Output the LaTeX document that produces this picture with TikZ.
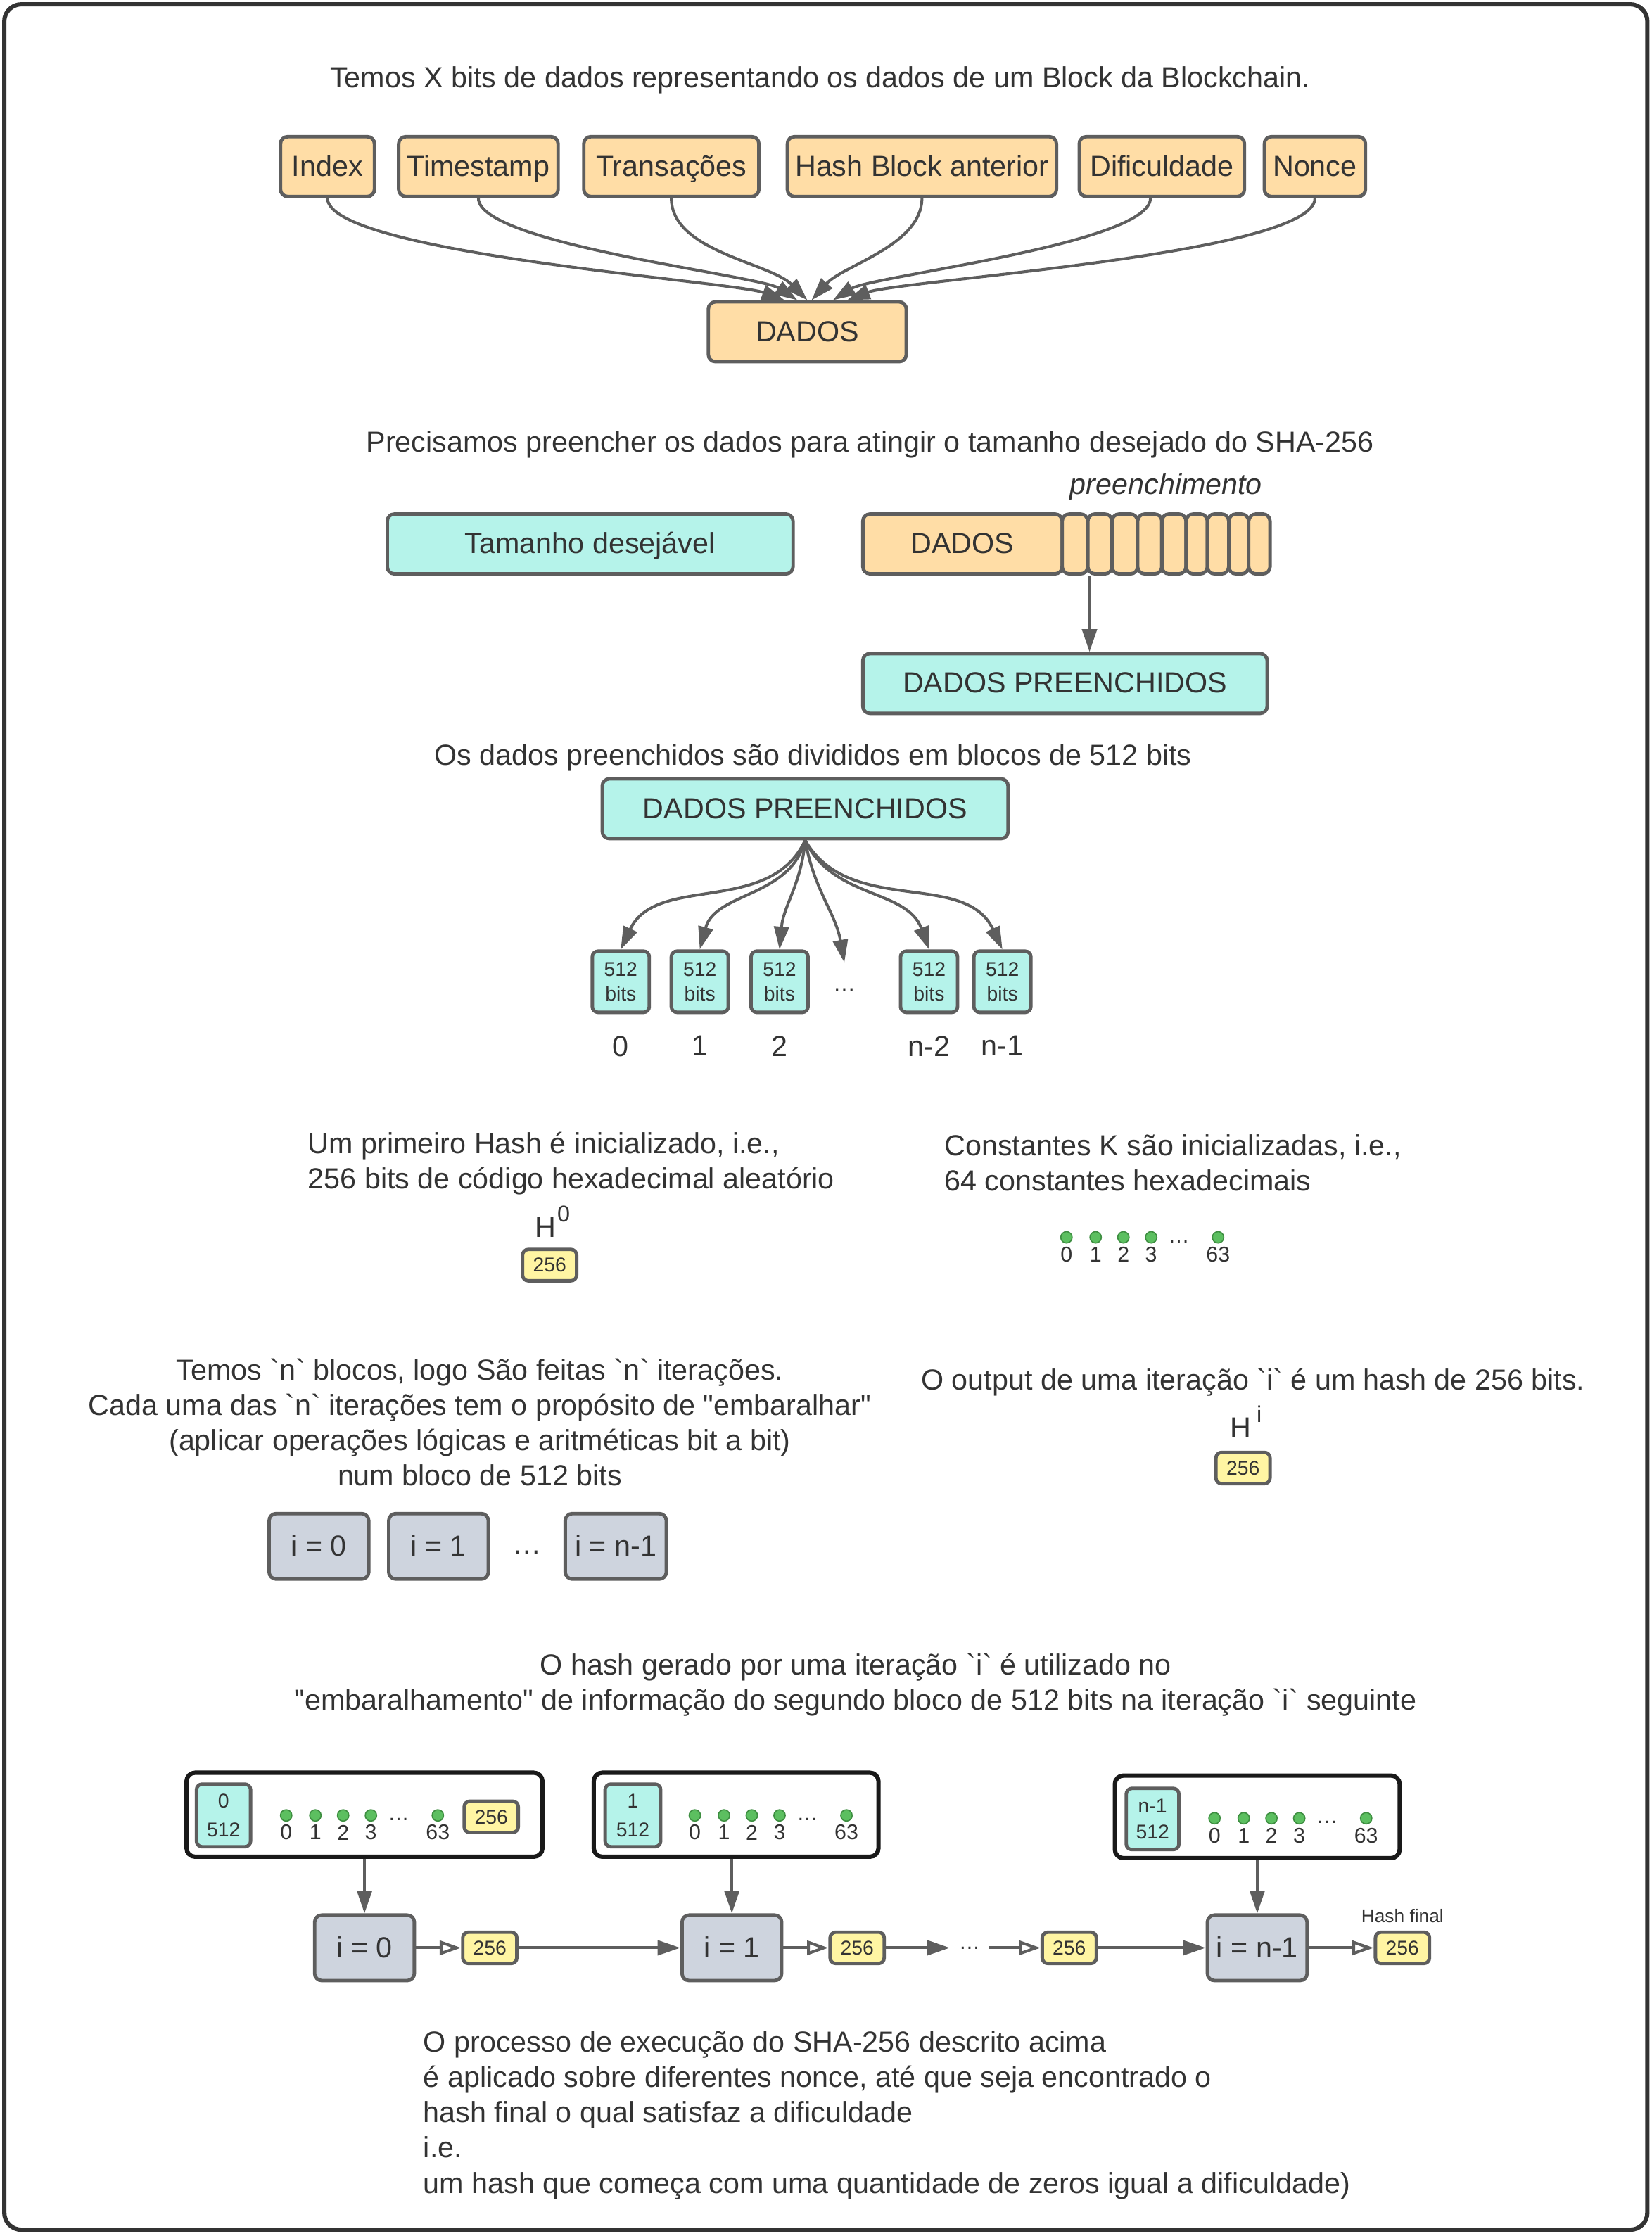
\documentclass[tikz,border=0pt]{standalone}
\usepackage{fontspec}
\setmainfont{Liberation Sans}
\usepackage{tikz}
\usetikzlibrary{positioning}
\usetikzlibrary{arrows.meta}
\definecolor{linha}{HTML}{5E5E5E}
\definecolor{laranja}{HTML}{FFDDA6}
\definecolor{menta}{HTML}{B5F3EA}
\definecolor{amarelo}{HTML}{FFF5A3}
\definecolor{cinza}{HTML}{CED4DE}
\definecolor{verde}{HTML}{5CBF60}
\definecolor{verdeesc}{HTML}{3E8E41}
\definecolor{texto}{HTML}{333333}
% crase e aspas retas, sem a troca do TeX
\newcommand{\crase}{\XeTeXglyph\XeTeXcharglyph"60\relax}
\newcommand{\aspas}{\XeTeXglyph\XeTeXcharglyph"22\relax}
% linha de constantes K: prefixo, x, y
\newcommand{\constantes}[3]{%
  \foreach \dx/\kn in {0/0, 20.5/1, 40/2, 59.5/3, 106.5/63} {
    \node[kdot] (#1k\kn) at (#2+\dx, #3) {};
    \node[klabel] at (#2+\dx, #3+12) {\kn};
  }
  \node[klabel] (#1kd) at (#2+79, #3+3) {\dots};
}
\tikzset {
  % caixas arredondadas
  caixa/.style={draw=linha, line width=1.2pt, rounded corners=2.5pt, minimum height=21pt,
    inner sep=0pt, text=texto, font=\fontsize{10.2}{12.4}\selectfont},
  % uma linha de texto, centrada pela altura das maiusculas
  linha1/.style={text height=7.3pt, text depth=0.6pt},
  % dados do bloco
  dado/.style={caixa, linha1, fill=laranja},
  % dados preenchidos
  bloco/.style={caixa, linha1, fill=menta},
  % blocos de 512 bits
  mini/.style={caixa, fill=menta, rounded corners=2pt, minimum width=20pt, minimum height=21.5pt,
    align=center, font=\fontsize{7}{8.5}\selectfont},
  % iteracoes
  iter/.style={caixa, linha1, fill=cinza, minimum width=35pt, minimum height=23pt},
  % hash de 256 bits
  hash/.style={caixa, fill=amarelo, rounded corners=2pt, minimum width=19pt, minimum height=11pt,
    font=\fontsize{7}{8}\selectfont},
  % caixa de cada iteracao
  grupo/.style={draw=black!90, line width=1.5pt, rounded corners=3pt, fill=white,
    minimum width=100pt, minimum height=29.5pt},
  % constantes K
  kdot/.style={circle, draw=verdeesc, fill=verde, line width=0.4pt, minimum size=4pt, inner sep=0pt},
  klabel/.style={inner sep=0pt, text=texto, font=\fontsize{7.5}{8}\selectfont},
  % textos soltos
  txt/.style={inner sep=0pt, text=texto, font=\fontsize{10.2}{12.4}\selectfont},
  % setas
  seta/.style={draw=linha, line width=1pt, -{Triangle[length=8pt,width=5.2pt]}},
  aberta/.style={draw=linha, line width=1pt, -{Triangle[open,length=7.5pt,width=5pt,fill=white]}},
}
\begin{document}
\begin{tikzpicture}[x=0.5pt, y=-0.5pt]
  \useasboundingbox (0,0) rectangle (1160,1570.4);
  \draw[texto, line width=1.5pt, rounded corners=6pt] (3,3) rectangle (1157,1566);

  % dados do bloco
  \node[txt] (t1) at (576,56) {Temos X bits de dados representando os dados de um Block da Blockchain.};
  \node[dado, minimum width=33pt] (index) at (230,117) {Index};
  \node[dado, minimum width=56pt] (time) at (336,117) {Timestamp};
  \node[dado, minimum width=61.5pt] (trans) at (471.5,117) {Transações};
  \node[dado, minimum width=94.5pt] (prev) at (647.5,117) {Hash Block anterior};
  \node[dado, minimum width=58pt] (dif) at (816,117) {Dificuldade};
  \node[dado, minimum width=35.5pt] (nonce) at (923.5,117) {Nonce};
  \node[dado, minimum width=69.5pt] (dados) at (567,233) {DADOS};

  \draw[seta] (index.south) to[out=-90, in=160, looseness=0.3] ([xshift=-8pt]dados.north);
  \draw[seta] (time.south) to[out=-90, in=147, looseness=0.35] ([xshift=-3.5pt]dados.north);
  \draw[seta] (trans.south) to[out=-90, in=135, looseness=0.8] (dados.north);
  \draw[seta] (prev.south) to[out=-90, in=48, looseness=0.8] ([xshift=1.5pt]dados.north);
  \draw[seta] ([xshift=-4pt]dif.south) to[out=-90, in=32, looseness=0.35] ([xshift=9pt]dados.north);
  \draw[seta] (nonce.south) to[out=-90, in=21, looseness=0.3] ([xshift=14pt]dados.north);

  % preenchimento
  \node[txt] (t2) at (611,312) {Precisamos preencher os dados para atingir o tamanho desejado do SHA-256};
  \node[bloco, minimum width=142.5pt] (tam) at (414.5,382) {Tamanho desejável};
  \node[dado, minimum width=70pt] (dadospad) at (676,382) {DADOS};
  \foreach \a/\b [count=\i] in {746/764, 764/781, 781/799, 799/816, 816/833, 833/848, 848/863, 863/877, 877/892}
    \node[dado, minimum width={(\b-\a)*0.5pt}] (pad\i) at ({(\a+\b)/2},382) {};
  \node[txt, font=\fontsize{10.2}{12}\selectfont\itshape] (preench) at (819,342) {preenchimento};
  \node[bloco, minimum width=142pt] (dp1) at (748,480) {DADOS PREENCHIDOS};
  \draw[seta] (pad1.south east) -- (pad1.south east |- dp1.north);

  % blocos de 512 bits
  \node[txt] (t3) at (571,532) {Os dados preenchidos são divididos em blocos de 512 bits};
  \node[bloco, minimum width=142.5pt] (dp2) at (565.5,568) {DADOS PREENCHIDOS};
  \node[mini] (b0) at (436,689.5) {512\\bits};
  \node[mini] (b1) at (491.5,689.5) {512\\bits};
  \node[mini] (b2) at (547.5,689.5) {512\\bits};
  \node[txt, font=\fontsize{8}{8}\selectfont] (bdots) at (593,695) {\dots};
  \node[mini] (b3) at (652.5,689.5) {512\\bits};
  \node[mini] (b4) at (704,689.5) {512\\bits};
  \node[txt, below=7.5pt of b0] (n0) {0};
  \node[txt, below=7.5pt of b1] (n1) {1};
  \node[txt, below=7.5pt of b2] (n2) {2};
  \node[txt, below=7.5pt of b3] (n3) {n-2};
  \node[txt, below=7.5pt of b4] (n4) {n-1};

  \draw[seta] (dp2.south) to[out=-115, in=65] (b0.north);
  \draw[seta] (dp2.south) to[out=-105, in=75] (b1.north);
  \draw[seta] (dp2.south) to[out=-95, in=85] (b2.north);
  \draw[seta] (dp2.south) to[out=-80, in=100] ([yshift=9.5pt]bdots.center);
  \draw[seta] (dp2.south) to[out=-65, in=110] (b3.north);
  \draw[seta] (dp2.south) to[out=-60, in=115] (b4.north);

  % hash inicial e constantes
  \node[txt, align=left, anchor=west] (t4a) at (216,817) {Um primeiro Hash é inicializado, i.e.,\\256 bits de código hexadecimal aleatório};
  \node[txt, align=left, anchor=west] (t4b) at (663,816.5) {Constantes K são inicializadas, i.e.,\\64 constantes hexadecimais};
  \node[txt, anchor=base] (h0lab) at (388,869) {H\kern0.5pt\raisebox{5.5pt}{\fontsize{8}{8}\selectfont 0}};
  \node[hash] (h0) at (386,888.5) {256};
  \constantes{k}{749}{869}

  % iteracoes
  \node[txt, align=center] (t5a) at (337,999) {Temos \crase n\crase{} blocos, logo São feitas \crase n\crase{} iterações.\\Cada uma das \crase n\crase{} iterações tem o propósito de \aspas embaralhar\aspas\\(aplicar operações lógicas e aritméticas bit a bit)\\num bloco de 512 bits};
  \node[txt] (t5b) at (880,971) {O output de uma iteração \crase i\crase{} é um hash de 256 bits.};
  \node[txt, anchor=base] (hilab) at (875,1010) {H\kern2pt\raisebox{5.5pt}{\fontsize{8}{8}\selectfont i}};
  \node[hash] (hi) at (873,1031) {256};
  \node[iter] (ia) at (224,1086) {i = 0};
  \node[iter] (ib) at (308,1086) {i = 1};
  \node[txt] (idots) at (370,1090) {\dots};
  \node[iter, minimum width=35.5pt] (ic) at (432.5,1086) {i = n-1};

  % encadeamento dos hashes
  \node[txt, align=center] (t6) at (601,1183.5) {O hash gerado por uma iteração \crase i\crase{} é utilizado no\\\aspas embaralhamento\aspas{} de informação do segundo bloco de 512 bits na iteração \crase i\crase{} seguinte};
  \node[grupo, minimum width=125pt] (c0) at (256,1274.5) {};
  \node[grupo] (c1) at (517,1274.5) {};
  \node[grupo, minimum height=29pt] (c2) at (883,1276) {};
  \node[mini, minimum width=19pt, minimum height=22pt, font=\fontsize{7}{10}\selectfont] (m0) at (157,1275) {0\\512};
  \node[mini, minimum width=19.5pt, minimum height=22pt, font=\fontsize{7}{10}\selectfont] (m1) at (444.5,1275) {1\\512};
  \node[mini, minimum width=18.5pt, minimum height=21.5pt, font=\fontsize{7}{9}\selectfont] (m2) at (809.5,1277.5) {n-1\\512};
  \node[hash] (hc0) at (345,1276) {256};
  \constantes{a}{201}{1275}
  \constantes{b}{488}{1275}
  \constantes{c}{853}{1277}

  \node[iter] (it0) at (256,1368) {i = 0};
  \node[iter] (it1) at (514,1368) {i = 1};
  \node[iter] (itn) at (883,1368) {i = n-1};
  \node[hash] (y0) at (344,1368) {256};
  \node[hash] (y1) at (602,1368) {256};
  \node[klabel, inner sep=3pt] (ydots) at (681,1368) {\dots};
  \node[hash] (y2) at (751,1368) {256};
  \node[hash] (yf) at (985,1368) {256};
  \node[klabel, font=\fontsize{6.5}{7}\selectfont, above=2.6pt of yf] (hf) {Hash final};

  \draw[seta] (c0.south) -- (it0.north);
  \draw[seta] (c1.south -| it1.north) -- (it1.north);
  \draw[seta] (c2.south) -- (itn.north);
  \draw[aberta] (it0) -- (y0);
  \draw[seta] (y0) -- (it1);
  \draw[aberta] (it1) -- (y1);
  \draw[seta] (y1) -- (ydots);
  \draw[aberta] (ydots) -- (y2);
  \draw[seta] (y2) -- (itn);
  \draw[aberta] (itn) -- (yf);

  % processo final
  \node[txt, align=left, anchor=west] (t7) at (297,1485.5) {O processo de execução do SHA-256 descrito acima\\é aplicado sobre diferentes nonce, até que seja encontrado o\\hash final o qual satisfaz a dificuldade\\i.e.\\um hash que começa com uma quantidade de zeros igual a dificuldade)};
\end{tikzpicture}
\end{document}
